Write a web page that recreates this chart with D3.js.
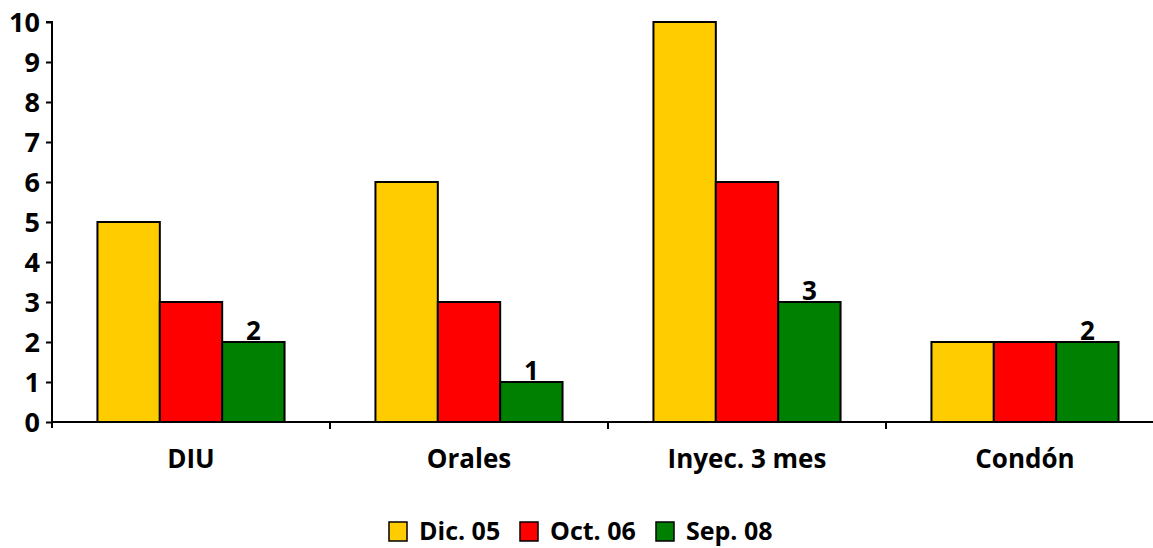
<!DOCTYPE html>
<html>
<head>
<meta charset="utf-8">
<script src="https://cdn.jsdelivr.net/npm/d3@7"></script>
<style>
  body { margin: 0; background: #fff; }
  svg text { font-family: "Open Sans", "Liberation Sans", sans-serif; font-weight: bold; }
</style>
</head>
<body>
<svg width="1153" height="548"></svg>
<script>
var categories = ["DIU", "Orales", "Inyec. 3 mes", "Condón"];
var seriesNames = ["Dic. 05", "Oct. 06", "Sep. 08"];
var dic05 = [5, 6, 10, 2];
var oct06 = [3, 3, 6, 2];
var sep08 = [2, 1, 3, 2];
var colors = ["#FFCC00", "#FF0000", "#008000"];
var yTicks = [0, 1, 2, 3, 4, 5, 6, 7, 8, 9, 10];

var svg = d3.select("svg");
var plotLeft = 52, plotRight = 1164, plotTop = 22, plotBottom = 422;

var series = [dic05, oct06, sep08];

var x0 = d3.scaleBand()
    .domain(categories)
    .range([plotLeft, plotRight])
    .paddingInner(0.327)
    .paddingOuter(0.1635);

var x1 = d3.scaleBand()
    .domain(seriesNames)
    .range([0, x0.bandwidth()]);

var y = d3.scaleLinear().domain([0, 10]).range([plotBottom, plotTop]);

// bars
var groups = svg.selectAll(".grp")
    .data(categories)
    .enter().append("g")
    .attr("class", "grp")
    .attr("transform", function(d) { return "translate(" + x0(d) + ",0)"; });

groups.selectAll("rect")
    .data(function(d, i) {
        return seriesNames.map(function(s, j) { return {s: s, v: series[j][i], j: j}; });
    })
    .enter().append("rect")
    .attr("x", function(d) { return x1(d.s); })
    .attr("y", function(d) { return y(d.v); })
    .attr("width", x1.bandwidth())
    .attr("height", function(d) { return plotBottom - y(d.v); })
    .style("fill", function(d) { return colors[d.j]; })
    .style("stroke", "#000")
    .style("stroke-width", 2);

// labels on last series only
groups.append("text")
    .attr("x", x1("Sep. 08") + x1.bandwidth() / 2)
    .attr("y", function(d, i) { return y(sep08[i]) - 2; })
    .attr("text-anchor", "middle")
    .style("font-size", "26px")
    .text(function(d, i) { return sep08[i]; });

// y axis
var yAxis = svg.append("g")
    .attr("transform", "translate(" + plotLeft + ",0)")
    .call(d3.axisLeft(y).tickValues(yTicks).tickSize(6).tickPadding(6));
yAxis.selectAll("text").style("font-size", "27px").attr("dy", "0.36em").style("fill", "#000");
yAxis.selectAll("line").style("stroke", "#000").style("stroke-width", 2);
yAxis.select(".domain").style("stroke", "#000").style("stroke-width", 2)
    .attr("d", "M0," + (plotBottom + 6) + "V" + plotTop + "H-6");

// x axis
svg.append("line")
    .attr("x1", plotLeft).attr("x2", 1153)
    .attr("y1", plotBottom).attr("y2", plotBottom)
    .style("stroke", "#000").style("stroke-width", 2);

var step = x0.step();
svg.selectAll(".xtick")
    .data(categories.slice(1))
    .enter().append("line")
    .attr("x1", function(d) { return x0(d) - x0.paddingOuter() * step; })
    .attr("x2", function(d) { return x0(d) - x0.paddingOuter() * step; })
    .attr("y1", plotBottom).attr("y2", plotBottom + 7)
    .style("stroke", "#000").style("stroke-width", 2);

svg.selectAll(".xlab")
    .data(categories)
    .enter().append("text")
    .attr("x", function(d) { return x0(d) + x0.bandwidth() / 2; })
    .attr("y", 468)
    .attr("text-anchor", "middle")
    .style("font-size", "26px")
    .text(function(d) { return d; });

// legend
var legendX = [389, 520, 656];
var legend = svg.selectAll(".leg")
    .data(seriesNames)
    .enter().append("g")
    .attr("transform", function(d, i) { return "translate(" + legendX[i] + ",522)"; });

legend.append("rect")
    .attr("width", 18).attr("height", 19)
    .style("fill", function(d, i) { return colors[i]; })
    .style("stroke", "#000").style("stroke-width", 1.5);

legend.append("text")
    .attr("x", 30).attr("y", 18)
    .style("font-size", "25px")
    .text(function(d) { return d; });
</script>
</body>
</html>
